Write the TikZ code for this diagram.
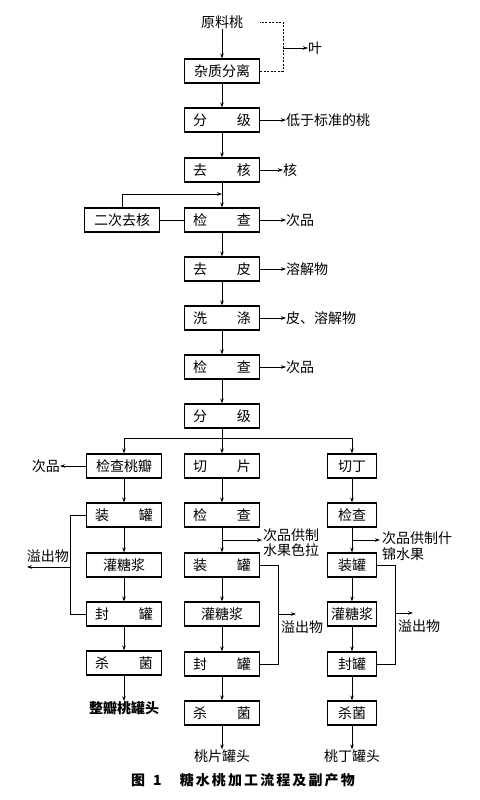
\documentclass[tikz,border=0pt]{standalone}
\usepackage{fontspec}
\setmainfont{Noto Sans CJK SC}
\usetikzlibrary{arrows.meta}
\newcommand\twoch[2]{\makebox[58pt]{#1\hfill#2}}
\begin{document}
\begin{tikzpicture}[x=1pt,y=-1pt,
  box/.style={draw, line width=1.2pt, minimum width=75pt, minimum height=24pt, inner sep=0pt, font=\fontsize{14}{14}\selectfont},
  sbox/.style={box, minimum width=49pt},
  lbl/.style={inner sep=0pt, font=\fontsize{14}{15}\selectfont},
  ln/.style={line width=0.7pt},
  arr/.style={ln, -{Stealth[length=5pt,width=3.5pt]}}]
\useasboundingbox[fill=white] (0,0) rectangle (479,800);
% main column
\node[lbl] (raw) at (222,22) {原料桃};
\node[box] (sep) at (222,71) {杂质分离};
\node[box] (g1) at (222,120) {\twoch{分}{级}};
\node[box] (pit) at (222,170) {\twoch{去}{核}};
\node[box] (c1) at (222,220) {\twoch{检}{查}};
\node[box] (twice) at (122,220) {二次去核};
\node[box] (peel) at (222,269) {\twoch{去}{皮}};
\node[box] (wash) at (222,318) {\twoch{洗}{涤}};
\node[box] (c2) at (222,367) {\twoch{检}{查}};
\node[box] (g2) at (222,416) {\twoch{分}{级}};
\draw[arr] (raw) -- (sep);
\draw[arr] (sep) -- (g1);
\draw[arr] (g1) -- (pit);
\draw[arr] (pit) -- (c1);
\draw[arr] (c1) -- (peel);
\draw[arr] (peel) -- (wash);
\draw[arr] (wash) -- (c2);
\draw[arr] (c2) -- (g2);
% side outputs
\coordinate (d2) at (283,22);
\coordinate (d3) at (260,22);
\coordinate (dj) at (283,48);
\node[lbl,anchor=west] (ye) at (308,48) {叶};
\draw[ln,dashed,dash pattern=on 2pt off 1.5pt] (sep.east) -| (d2) -- (d3);
\draw[arr] (dj) -- (ye.west);
\node[lbl,anchor=west] (o1) at (286,120) {低于标准的桃};
\draw[arr] (g1.east) -- (o1.west);
\node[lbl,anchor=west] (o2) at (283,170) {核};
\draw[arr] (pit.east) -- (o2.west);
\node[lbl,anchor=west] (o3) at (286,220) {次品};
\draw[arr] (c1.east) -- (o3.west);
\node[lbl,anchor=west] (o4) at (286,269) {溶解物};
\draw[arr] (peel.east) -- (o4.west);
\node[lbl,anchor=west] (o5) at (286,318) {皮、溶解物};
\draw[arr] (wash.east) -- (o5.west);
\node[lbl,anchor=west] (o6) at (286,367) {次品};
\draw[arr] (c2.east) -- (o6.west);
% second pitting loop
\coordinate (lpm) at (222,194);
\draw[ln] (twice) -- (c1);
\draw[arr] (twice.north) |- (lpm);
% branch
\coordinate (b) at (222,438);
\coordinate (bl) at (124,438);
\coordinate (br) at (352,438);
\draw[ln] (g2) -- (b);
\draw[ln] (bl) -- (br);
% left column
\node[box] (L1) at (124,466) {检查桃瓣};
\node[box] (L2) at (124,515) {\twoch{装}{罐}};
\node[box] (L3) at (124,565) {灌糖浆};
\node[box] (L4) at (124,614) {\twoch{封}{罐}};
\node[box] (L5) at (124,663) {\twoch{杀}{菌}};
\node[lbl,font=\fontsize{14}{15}\selectfont\bfseries] (L6) at (124,708) {整瓣桃罐头};
\draw[arr] (bl) -- (L1);
\draw[arr] (L1) -- (L2);
\draw[arr] (L2) -- (L3);
\draw[arr] (L3) -- (L4);
\draw[arr] (L4) -- (L5);
\draw[arr] (L5) -- (L6);
\node[lbl,anchor=east] (lx) at (60,466) {次品};
\draw[arr] (L1.west) -- (lx.east);
\coordinate (la) at (70,515);
\coordinate (lb) at (70,614);
\coordinate (lc) at (70,567);
\coordinate (ld) at (27,567);
\draw[ln] (L2.west) -- (la) -- (lb) -- (L4.west);
\draw[arr] (lc) -- (ld);
\node[lbl,anchor=south] (lo) at (48,563) {溢出物};
% middle column
\node[box] (M1) at (222,466) {\twoch{切}{片}};
\node[box] (M2) at (222,515) {\twoch{检}{查}};
\node[box] (M3) at (222,565) {\twoch{装}{罐}};
\node[box] (M4) at (222,614) {灌糖浆};
\node[box] (M5) at (222,664) {\twoch{封}{罐}};
\node[box] (M6) at (222,713) {\twoch{杀}{菌}};
\node[lbl] (M7) at (222,756) {桃片罐头};
\draw[arr] (b) -- (M1);
\draw[arr] (M1) -- (M2);
\draw[arr] (M2) -- (M3);
\draw[arr] (M3) -- (M4);
\draw[arr] (M4) -- (M5);
\draw[arr] (M5) -- (M6);
\draw[arr] (M6) -- (M7);
\coordinate (mj) at (222,540);
\coordinate (mk) at (262,540);
\node[lbl,anchor=west,align=left,font=\fontsize{14}{15}\selectfont] (mx) at (263,543) {次品供制\\水果色拉};
\draw[arr] (mj) -- (mk);
\coordinate (ma) at (278,565);
\coordinate (mb) at (278,664);
\coordinate (mc) at (278,614);
\coordinate (md) at (296,614);
\draw[ln] (M3.east) -- (ma) -- (mb) -- (M5.east);
\draw[arr] (mc) -- (md);
\node[lbl] (mo) at (302,627) {溢出物};
% right column
\node[sbox] (R1) at (352,466) {切丁};
\node[sbox] (R2) at (352,515) {检查};
\node[sbox] (R3) at (352,565) {装罐};
\node[sbox] (R4) at (352,614) {灌糖浆};
\node[sbox] (R5) at (352,664) {封罐};
\node[sbox] (R6) at (352,713) {杀菌};
\node[lbl] (R7) at (352,756) {桃丁罐头};
\draw[arr] (br) -- (R1);
\draw[arr] (R1) -- (R2);
\draw[arr] (R2) -- (R3);
\draw[arr] (R3) -- (R4);
\draw[arr] (R4) -- (R5);
\draw[arr] (R5) -- (R6);
\draw[arr] (R6) -- (R7);
\coordinate (rj) at (352,540);
\coordinate (rk) at (380,540);
\node[lbl,anchor=north west,align=left,font=\fontsize{14}{16}\selectfont] (rx) at (382,532) {次品供制什\\锦水果};
\draw[arr] (rj) -- (rk);
\coordinate (ra) at (395,565);
\coordinate (rb) at (395,664);
\coordinate (rc) at (395,613);
\coordinate (rd) at (413,613);
\draw[ln] (R3.east) -- (ra) -- (rb) -- (R5.east);
\draw[arr] (rc) -- (rd);
\node[lbl] (ro) at (419,626) {溢出物};
% caption
\node[lbl,font=\fontsize{14}{15}\selectfont\bfseries] (cap) at (243,780) {图\hspace{8pt}1\hspace{18pt}{\addfontfeature{LetterSpace=15}糖水桃加工流程及副产物}};
\end{tikzpicture}
\end{document}
